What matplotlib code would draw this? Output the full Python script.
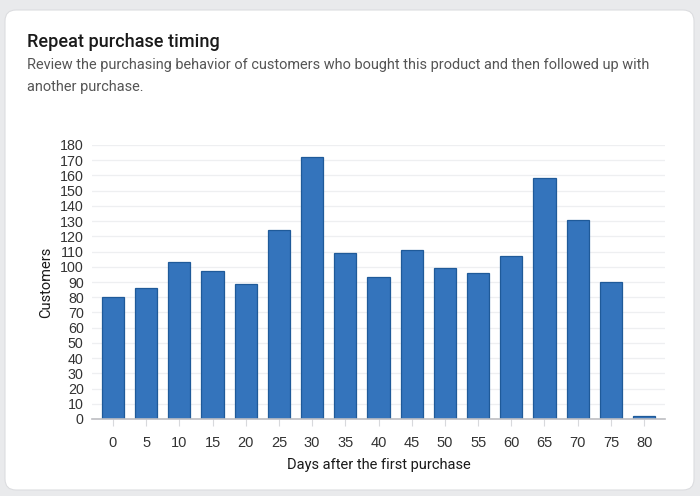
import matplotlib.pyplot as plt
from matplotlib.patches import FancyBboxPatch

# chart data
days = [0, 5, 10, 15, 20, 25, 30, 35, 40, 45, 50, 55, 60, 65, 70, 75, 80]
customers = [80, 86, 103, 97, 89, 124, 172, 109, 93, 111, 99, 96, 107, 158, 131, 90, 2]
y_ticks = list(range(0, 181, 10))

title = "Repeat purchase timing"
subtitle = ("Review the purchasing behavior of customers who bought this product and then followed up with\n"
            "another purchase.")

W, H = 700, 496
fig = plt.figure(figsize=(W / 100, H / 100), dpi=100)
fig.patch.set_facecolor("#e9eaec")

# white card with rounded corners (inches so corners stay round)
card = FancyBboxPatch((5 / 100, 6 / 100), 689 / 100, 480 / 100,
                      boxstyle="round,pad=0,rounding_size=0.11",
                      transform=fig.dpi_scale_trans,
                      facecolor="white", edgecolor="#dcdde0", linewidth=0.8, zorder=-1)
fig.patches.append(card)

fig.text(27 / W, 1 - 42 / H, title, fontsize=13.1, family="Roboto", fontweight="medium",
         color="#1a1a1a", va="center", ha="left")
fig.text(27 / W, 1 - 76 / H, subtitle, fontsize=10.45, family="Roboto", color="#555555",
         va="center", ha="left", linespacing=1.75)

ax = fig.add_axes([92 / W, 1 - 419 / H, (665 - 92) / W, (419 - 145) / H])
ax.set_facecolor("none")
ax.set_zorder(2)

x = list(range(len(days)))
ax.bar(x, customers, width=0.67, color="#3474bc", edgecolor="#1f5a99", linewidth=0.9, zorder=3)

ax.set_xlim(-0.63, len(days) - 1 + 0.63)
ax.set_ylim(0, 180)
ax.set_yticks(y_ticks)
ax.set_xticks(x)
ax.set_xticklabels([str(d) for d in days])

ax.grid(axis="y", color="#eeeff1", linewidth=0.9, zorder=0)
ax.grid(axis="x", visible=False)

for s in ["top", "right", "left"]:
    ax.spines[s].set_visible(False)
ax.spines["bottom"].set_color("#bdbec2")
ax.spines["bottom"].set_linewidth(1.2)
ax.spines["bottom"].set_zorder(4)

ax.tick_params(axis="y", length=0, pad=6, labelsize=10.3, labelcolor="#333333")
ax.tick_params(axis="x", length=5, width=0.8, color="#d8d9dc", pad=7, labelsize=10.5,
               labelcolor="#333333")
for lbl in ax.get_xticklabels() + ax.get_yticklabels():
    lbl.set_family("Liberation Sans")

ax.set_ylabel("Customers", fontsize=10.5, family="Roboto", color="#1a1a1a", labelpad=5)
ax.set_xlabel("Days after the first purchase", fontsize=10.5, family="Roboto", color="#1a1a1a",
              labelpad=6)

fig.savefig("out.png", dpi=100, facecolor=fig.get_facecolor())
